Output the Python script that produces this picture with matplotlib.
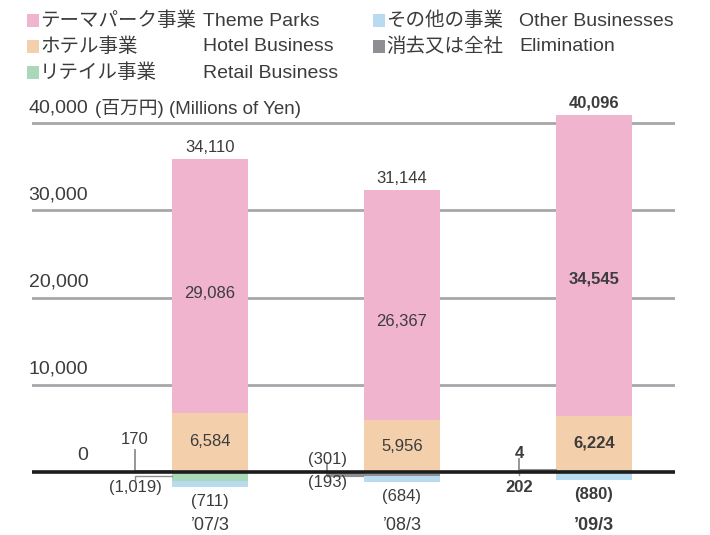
import matplotlib.pyplot as plt
from matplotlib.patches import Rectangle

plt.rcParams['font.family'] = ['Liberation Sans', 'Noto Sans CJK JP', 'DejaVu Sans']

# data (millions of yen)
years = ['\u201907/3', '\u201908/3', '\u201909/3']
theme = [29086, 26367, 34545]
hotel = [6584, 5956, 6224]
retail = [-1019, -193, 202]
other = [-711, -684, -880]
elim = [170, -301, 4]
totals = [34110, 31144, 40096]

c_theme = '#f0b4cf'
c_hotel = '#f4cfac'
c_retail = '#a9d9b9'
c_other = '#b9dbef'
c_elim = '#8e8e93'
c_text = '#3c3c3c'
c_grid = '#a6a6ab'

W, H = 710, 535
fig = plt.figure(figsize=(W / 100, H / 100), dpi=100)
ax = fig.add_axes([32 / W, 0, 643 / W, 1])
ax.set_xlim(-0.927, 2.422)
ax.set_ylim(-7225, 54128)
ax.axis('off')

narrow = ['Liberation Sans Narrow', 'Liberation Sans', 'Noto Sans CJK JP']

for v in [10000, 20000, 30000, 40000]:
    ax.axhline(v, color=c_grid, lw=2, zorder=1)

def fmt(v):
    return f'{v:,}' if v >= 0 else f'({-v:,})'

theme_shift = [-800, -1900, -1600]
bw = 0.40
for i in range(len(years)):
    pos, neg = 0, 0
    mids = {}
    for name, vals, col in [('retail', retail, c_retail), ('elim', elim, c_elim),
                            ('other', other, c_other), ('hotel', hotel, c_hotel),
                            ('theme', theme, c_theme)]:
        v = vals[i]
        if v >= 0:
            ax.bar(i, v, bottom=pos, width=bw, color=col, lw=0, zorder=2)
            mids[name] = pos + v / 2
            pos += v
        else:
            ax.bar(i, v, bottom=neg, width=bw, color=col, lw=0, zorder=2)
            mids[name] = neg + v / 2
            neg += v
    bold = 'bold' if i == 2 else 'normal'
    ax.annotate(fmt(totals[i]), (i, pos), xytext=(0, 3), textcoords='offset points',
                ha='center', va='bottom', fontsize=12, color=c_text, weight=bold, family=narrow)
    ax.text(i, mids['theme'] + theme_shift[i], fmt(theme[i]), ha='center', va='center',
            fontsize=12, color=c_text, weight=bold, family=narrow, zorder=4)
    ax.text(i, mids['hotel'], fmt(hotel[i]), ha='center', va='center', fontsize=12,
            color=c_text, weight=bold, family=narrow, zorder=4)
    ax.annotate(fmt(other[i]), (i, neg), xytext=(0, -5), textcoords='offset points',
                ha='center', va='top', fontsize=12, color=c_text, weight=bold, family=narrow)
    ax.text(i, -6100, years[i], ha='center', va='center', fontsize=13, color=c_text,
            weight=bold, family=narrow)

    # leaders for small segments
    lx = i - 0.39
    edge = i - bw / 2
    ey = mids['elim']
    top = [2500, 1000, 1500][i]
    ax.plot([lx, lx, edge], [top, ey, ey], color=c_elim, lw=1.3, zorder=3)
    if i == 1:
        ax.plot([lx, edge], [ey, ey], color=c_elim, lw=3, solid_capstyle='butt', zorder=3)
    if i == 2:
        ax.plot([lx, edge], [ey, ey], color=c_elim, lw=2.2, solid_capstyle='butt', zorder=3)
    ry = mids['retail']
    ax.plot([edge, lx, lx], [ry, ry, ry - 400], color=c_elim, lw=1, zorder=3)

# small value labels beside bars
ax.text(0 - 0.39, 3700, fmt(elim[0]), ha='center', va='center', fontsize=12,
        color=c_text, family=narrow)
ax.text(0 - 0.39, -1750, fmt(retail[0]), ha='center', va='center', fontsize=12,
        color=c_text, family=narrow)
ax.text(1 - 0.39, 1400, fmt(elim[1]), ha='center', va='center', fontsize=12,
        color=c_text, family=narrow)
ax.text(1 - 0.39, -1200, fmt(retail[1]), ha='center', va='center', fontsize=12,
        color=c_text, family=narrow)
ax.text(2 - 0.39, 2150, fmt(elim[2]), ha='center', va='center', fontsize=12,
        color=c_text, weight='bold', family=narrow)
ax.text(2 - 0.39, -1750, fmt(retail[2]), ha='center', va='center', fontsize=12,
        color=c_text, weight='bold', family=narrow)

ax.axhline(0, color='#1c1c1c', lw=2.6, zorder=5)

# y labels above gridlines
for v in [0, 10000, 20000, 30000, 40000]:
    ax.annotate(f'{v:,}', (-0.927, v), xytext=(40.5, 5 if v else 6), textcoords='offset points',
                ha='right', va='bottom', fontsize=14, color=c_text, family=narrow)
fig.text(95 / W, 1 - 108 / H, '(百万円) (Millions of Yen)', ha='left', va='center',
         fontsize=13.5, color=c_text)

# legend
legend = [
    (c_theme, 'テーマパーク事業', 'Theme Parks', 27, 21),
    (c_hotel, 'ホテル事業', 'Hotel Business', 27, 47),
    (c_retail, 'リテイル事業', 'Retail Business', 27, 73),
    (c_other, 'その他の事業', 'Other Businesses', 373, 21),
    (c_elim, '消去又は全社', 'Elimination', 373, 47),
]
for col, jp, en, x0, y0 in legend:
    fig.patches.append(Rectangle((x0 / W, 1 - (y0 + 6) / H), 12 / W, 13 / H,
                                 transform=fig.transFigure, color=col, lw=0))
    fig.text((x0 + 13) / W, 1 - y0 / H, jp, ha='left', va='center', fontsize=14,
             color=c_text, family=['Noto Sans CJK JP'])
    fig.text((x0 + 176 if x0 < 100 else x0 + 146) / W, 1 - y0 / H, en, ha='left', va='center',
             fontsize=14, color=c_text, family=narrow)

fig.savefig('out.png', dpi=100)
